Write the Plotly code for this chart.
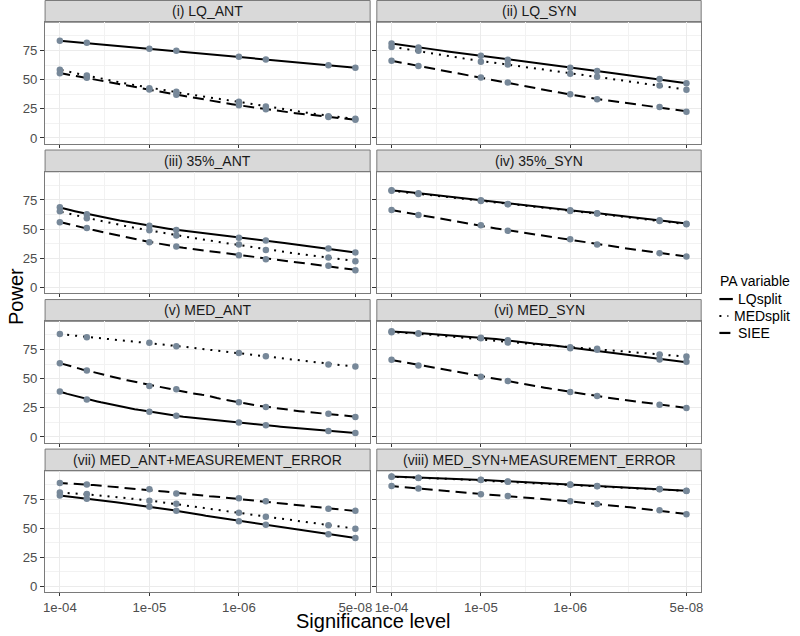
import numpy as np
import plotly.graph_objects as go

sig_levels = [1e-4, 5e-5, 1e-5, 5e-6, 1e-6, 5e-7, 1e-7, 5e-8]
panel_titles = ["(i) LQ_ANT", "(ii) LQ_SYN", "(iii) 35%_ANT", "(iv) 35%_SYN",
                "(v) MED_ANT", "(vi) MED_SYN", "(vii) MED_ANT+MEASUREMENT_ERROR",
                "(viii) MED_SYN+MEASUREMENT_ERROR"]
variables = ["LQsplit", "MEDsplit", "SIEE"]
x_tick_vals = [1e-4, 1e-5, 1e-6, 5e-8]
x_tick_text = ["1e-04", "1e-05", "1e-06", "5e-08"]
y_tick_vals = [0, 25, 50, 75]

lqsplit = [
    [83.3, 81.5, 76.4, 74.7, 69.6, 67.3, 62.4, 60.2],
    [81.0, 77.6, 70.4, 67.0, 60.2, 57.3, 50.5, 46.8],
    [68.7, 62.7, 53.0, 49.3, 42.5, 40.2, 33.4, 29.9],
    [83.3, 80.7, 74.7, 71.6, 66.2, 63.6, 57.6, 54.7],
    [39.0, 32.2, 21.7, 18.2, 12.3, 10.0, 5.1, 3.4],
    [90.7, 88.7, 85.0, 83.0, 76.1, 74.7, 66.4, 64.4],
    [78.1, 75.3, 68.4, 65.0, 55.9, 53.0, 44.8, 41.6],
    [94.4, 93.2, 91.5, 90.1, 87.5, 86.1, 83.5, 82.1],
]
medsplit = [
    [58.5, 53.5, 42.5, 39.5, 31.0, 27.0, 18.5, 16.5],
    [78.0, 74.7, 65.3, 63.0, 55.0, 52.5, 45.0, 41.3],
    [65.3, 59.3, 49.0, 44.5, 36.8, 32.2, 25.7, 22.5],
    [83.0, 80.1, 74.1, 71.3, 65.6, 63.3, 57.0, 54.2],
    [88.4, 85.5, 80.7, 77.8, 72.1, 69.3, 62.2, 60.5],
    [89.8, 88.7, 84.7, 81.0, 77.0, 75.6, 70.7, 69.0],
    [80.5, 79.3, 73.6, 71.0, 63.3, 59.9, 52.5, 49.6],
    [94.2, 93.0, 91.3, 89.9, 87.3, 85.9, 83.3, 81.9],
]
siee = [
    [55.5, 51.5, 41.5, 37.0, 28.0, 24.5, 18.0, 15.5],
    [66.2, 61.6, 51.9, 47.6, 37.4, 33.1, 26.5, 22.5],
    [55.9, 51.0, 38.8, 35.0, 27.7, 24.2, 18.5, 14.8],
    [66.4, 62.2, 53.3, 48.5, 41.3, 36.8, 29.4, 26.5],
    [63.3, 57.0, 43.6, 41.0, 29.7, 25.7, 20.0, 17.1],
    [66.2, 61.3, 51.6, 47.9, 38.5, 35.1, 27.7, 24.8],
    [88.7, 87.5, 83.3, 79.8, 75.6, 73.0, 66.7, 65.0],
    [86.1, 84.1, 79.0, 77.6, 73.0, 70.7, 65.3, 61.9],
]

series = {"LQsplit": lqsplit, "MEDsplit": medsplit, "SIEE": siee}
dashes = {"LQsplit": "solid", "MEDsplit": "2px,6px", "SIEE": "11px,6px"}

FONT = "Liberation Sans, Arial, sans-serif"
W, H = 800, 636
TICK_SIZE = 13.2


def loess(x, y, xe, span=0.75):
    """Local quadratic regression (like ggplot's geom_smooth default)."""
    x = np.asarray(x, float)
    y = np.asarray(y, float)
    n = len(x)
    q = int(np.floor(n * span))
    out = []
    for x0 in xe:
        d = np.abs(x - x0)
        h = np.sort(d)[q - 1] * 1.0000001
        u = np.clip(d / h, 0, 1)
        w = (1 - u ** 3) ** 3
        X = np.vstack([np.ones(n), x - x0, (x - x0) ** 2]).T
        Wm = np.diag(w)
        beta = np.linalg.lstsq(X.T @ Wm @ X, X.T @ Wm @ y, rcond=None)[0]
        out.append(beta[0])
    return np.array(out)


fig = go.Figure()

col_px = [(43.3, 370.0), (376.7, 702.7)]
logx = np.log10(sig_levels)
grid = np.linspace(logx.min(), logx.max(), 80)

for k in range(8):
    r, c = divmod(k, 2)
    ax = "" if k == 0 else str(k + 1)
    xref, yref = "x" + ax, "y" + ax
    for v in variables:
        yv = series[v][k]
        fit = loess(logx, yv, grid)
        fig.add_trace(go.Scatter(
            x=10 ** grid, y=fit, mode="lines", xaxis=xref, yaxis=yref,
            line=dict(color="black", width=2, dash=dashes[v]),
            showlegend=False, hoverinfo="skip"))
    for v in variables:
        fig.add_trace(go.Scatter(
            x=sig_levels, y=series[v][k], mode="markers", xaxis=xref, yaxis=yref,
            marker=dict(color="#778899", size=6.5), showlegend=False, name=v))

    top = 22.3 + 150 * r
    bot = 144.0 + 150 * r
    x0p, x1p = col_px[c]
    xdom = [x0p / W, x1p / W]
    ydom = [1 - bot / H, 1 - top / H]
    xa = dict(
        domain=xdom, type="log", range=[-3.835, -7.466], anchor="y" + ax,
        tickvals=x_tick_vals, ticktext=x_tick_text, showticklabels=(r == 3),
        ticks="outside", ticklen=3, tickcolor="#333333", tickwidth=1,
        tickfont=dict(family=FONT, size=TICK_SIZE, color="#4D4D4D"),
        showgrid=True, gridcolor="#EBEBEB", gridwidth=1.1,
        minor=dict(tickvals=[10 ** -4.5, 10 ** -5.5, 10 ** -6.6505], showgrid=True,
                   gridcolor="#F2F2F2", gridwidth=0.6, ticks=""),
        showline=True, mirror=True, linecolor="#7A7A7A", linewidth=1,
        zeroline=False, fixedrange=True,
    )
    ya = dict(
        domain=ydom, range=[-4.85, 99.2], anchor="x" + ax,
        tickvals=y_tick_vals, showticklabels=(c == 0),
        ticks="outside", ticklen=4, tickcolor="#333333", tickwidth=1,
        tickfont=dict(family=FONT, size=TICK_SIZE, color="#4D4D4D"),
        showgrid=True, gridcolor="#EBEBEB", gridwidth=1.1,
        minor=dict(tickvals=[12.5, 37.5, 62.5, 87.5], showgrid=True,
                   gridcolor="#F2F2F2", gridwidth=0.6, ticks=""),
        showline=True, mirror=True, linecolor="#7A7A7A", linewidth=1,
        zeroline=False, fixedrange=True,
    )
    fig.layout["xaxis" + ax] = xa
    fig.layout["yaxis" + ax] = ya

    # strip
    s_top = 150 * r + 0.5
    s_bot = 22.3 + 150 * r
    fig.add_shape(type="rect", xref="paper", yref="paper",
                  x0=xdom[0], x1=xdom[1], y0=1 - s_bot / H, y1=1 - s_top / H,
                  fillcolor="#D9D9D9", line=dict(color="#7A7A7A", width=1), layer="below")
    fig.add_annotation(text=panel_titles[k], xref="paper", yref="paper",
                       x=(xdom[0] + xdom[1]) / 2, y=1 - (s_top + s_bot) / 2 / H,
                       showarrow=False, xanchor="center", yanchor="middle",
                       font=dict(family=FONT, size=14, color="#1A1A1A"))

# axis titles
fig.add_annotation(text="Power", xref="paper", yref="paper", x=14 / W, y=1 - 297 / H,
                   textangle=-90, showarrow=False, xanchor="center", yanchor="middle",
                   font=dict(family=FONT, size=20, color="black"))
fig.add_annotation(text="Significance level", xref="paper", yref="paper",
                   x=373 / W, y=1 - 623 / H, showarrow=False,
                   xanchor="center", yanchor="middle",
                   font=dict(family=FONT, size=20, color="black"))

# legend
fig.add_annotation(text="PA variable", xref="paper", yref="paper", x=719.5 / W, y=1 - 282 / H,
                   showarrow=False, xanchor="left", yanchor="middle",
                   font=dict(family=FONT, size=14, color="black"))
leg_y = [300, 317, 334]
key_end = {"LQsplit": 734.5, "MEDsplit": 730.0, "SIEE": 732.5}
label_x = {"LQsplit": 738.0, "MEDsplit": 734.0, "SIEE": 738.0}
for v, yy in zip(variables, leg_y):
    fig.add_shape(type="line", xref="paper", yref="paper",
                  x0=721.0 / W, x1=key_end[v] / W, y0=1 - yy / H, y1=1 - yy / H,
                  line=dict(color="black", width=2.2, dash=dashes[v]))
    fig.add_annotation(text=v, xref="paper", yref="paper", x=label_x[v] / W, y=1 - yy / H,
                       showarrow=False, xanchor="left", yanchor="middle",
                       font=dict(family=FONT, size=14, color="black"))

fig.update_layout(width=W, height=H, margin=dict(l=0, r=0, t=0, b=0),
                  paper_bgcolor="white", plot_bgcolor="white", showlegend=False,
                  font=dict(family=FONT))

fig.write_html("out.html", config={"displayModeBar": False},
               post_script="document.body.style.margin='0';document.body.style.padding='0';")
